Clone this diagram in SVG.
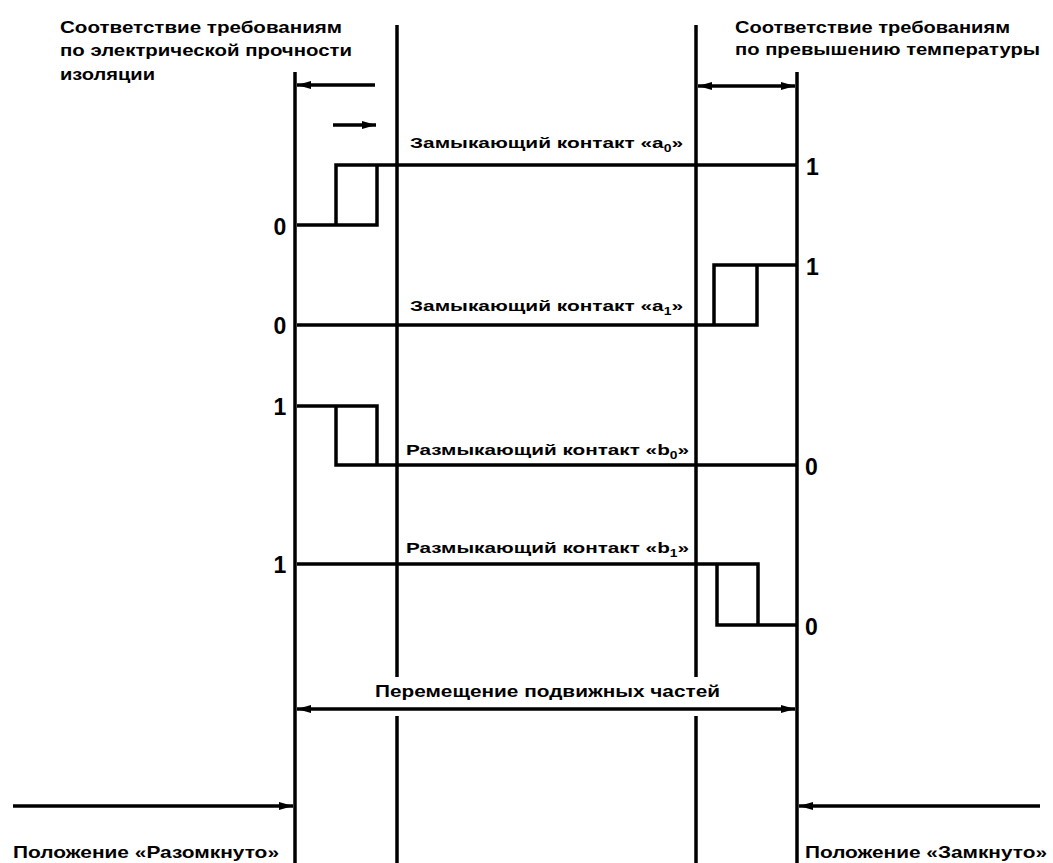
<svg xmlns="http://www.w3.org/2000/svg" width="1053" height="863" viewBox="0 0 1053 863">
<style>
.ln{stroke:#000;stroke-width:3.5;fill:none;stroke-linecap:butt}
.sg{stroke:#000;stroke-width:3.5;fill:none;stroke-linejoin:miter}
.ar{stroke:#000;stroke-width:3.5;fill:none}
.t{font-family:"Liberation Sans",Arial,sans-serif;font-weight:bold;fill:#000}
.h{font-size:17px}
.c{font-size:15px}
.n{font-size:23px}
.sub{font-size:10px}
</style>
<defs>
<marker id="ah" viewBox="0 0 14 8" refX="14" refY="4" markerWidth="14" markerHeight="8" markerUnits="userSpaceOnUse" orient="auto-start-reverse">
<path d="M0,0 L14,4 L0,8 z" fill="#000"/>
</marker>
</defs>
<rect width="1053" height="863" fill="#fff"/>
<g id="grid">
<line class="ln" x1="295" y1="72" x2="295" y2="863"/>
<line class="ln" x1="797" y1="72" x2="797" y2="863"/>
<line class="ln" x1="397" y1="25" x2="397" y2="677"/>
<line class="ln" x1="397" y1="716" x2="397" y2="863"/>
<line class="ln" x1="696" y1="25" x2="696" y2="677"/>
<line class="ln" x1="696" y1="716" x2="696" y2="863"/>
</g>
<g id="connectors">
<line class="ar" x1="375" y1="85" x2="297" y2="85" marker-end="url(#ah)"/>
<line class="ar" x1="333" y1="125" x2="376" y2="125" marker-end="url(#ah)"/>
<line class="ar" x1="698" y1="86" x2="795" y2="86" marker-start="url(#ah)" marker-end="url(#ah)"/>
<line class="ar" x1="297" y1="709" x2="795" y2="709" marker-start="url(#ah)" marker-end="url(#ah)"/>
<line class="ar" x1="13" y1="806" x2="293" y2="806" marker-end="url(#ah)"/>
<line class="ar" x1="1040" y1="806" x2="799" y2="806" marker-end="url(#ah)"/>
</g>
<g id="signal-a0">
<polyline class="sg" points="297,225 377,225 377,165"/>
<polyline class="sg" points="336,225 336,165 797,165"/>
<text class="t n" x="280" y="235" text-anchor="middle">0</text>
<text class="t n" x="806" y="175">1</text>
<text class="t c" x="410" y="148" textLength="273" lengthAdjust="spacingAndGlyphs">Замыкающий контакт «a<tspan class="sub" dy="4">0</tspan><tspan dy="-4">»</tspan></text>
</g>
<g id="signal-a1">
<polyline class="sg" points="297,325 757,325 757,265"/>
<polyline class="sg" points="714,325 714,265 797,265"/>
<text class="t n" x="280" y="334" text-anchor="middle">0</text>
<text class="t n" x="806" y="275">1</text>
<text class="t c" x="410" y="311" textLength="273" lengthAdjust="spacingAndGlyphs">Замыкающий контакт «a<tspan class="sub" dy="4">1</tspan><tspan dy="-4">»</tspan></text>
</g>
<g id="signal-b0">
<polyline class="sg" points="297,406 377,406 377,465"/>
<polyline class="sg" points="336,406 336,465 797,465"/>
<text class="t n" x="280" y="415" text-anchor="middle">1</text>
<text class="t n" x="805" y="475">0</text>
<text class="t c" x="406" y="455" textLength="283" lengthAdjust="spacingAndGlyphs">Размыкающий контакт «b<tspan class="sub" dy="4">0</tspan><tspan dy="-4">»</tspan></text>
</g>
<g id="signal-b1">
<polyline class="sg" points="297,564 758,564 758,625"/>
<polyline class="sg" points="717,564 717,625 797,625"/>
<text class="t n" x="280" y="573" text-anchor="middle">1</text>
<text class="t n" x="805" y="635">0</text>
<text class="t c" x="406" y="553" textLength="283" lengthAdjust="spacingAndGlyphs">Размыкающий контакт «b<tspan class="sub" dy="4">1</tspan><tspan dy="-4">»</tspan></text>
</g>
<g id="labels">
<text class="t h" x="60" y="33" textLength="282" lengthAdjust="spacingAndGlyphs">Соответствие требованиям</text>
<text class="t h" x="60" y="56" textLength="292" lengthAdjust="spacingAndGlyphs">по электрической прочности</text>
<text class="t h" x="60" y="80" textLength="95" lengthAdjust="spacingAndGlyphs">изоляции</text>
<text class="t h" x="735" y="33" textLength="275" lengthAdjust="spacingAndGlyphs">Соответствие требованиям</text>
<text class="t h" x="735" y="55" textLength="305" lengthAdjust="spacingAndGlyphs">по превышению температуры</text>
<text class="t h" x="375" y="697" textLength="345" lengthAdjust="spacingAndGlyphs">Перемещение подвижных частей</text>
<text class="t h" x="13" y="858" textLength="266" lengthAdjust="spacingAndGlyphs">Положение «Разомкнуто»</text>
<text class="t h" x="805" y="858" textLength="242" lengthAdjust="spacingAndGlyphs">Положение «Замкнуто»</text>
</g>
</svg>
